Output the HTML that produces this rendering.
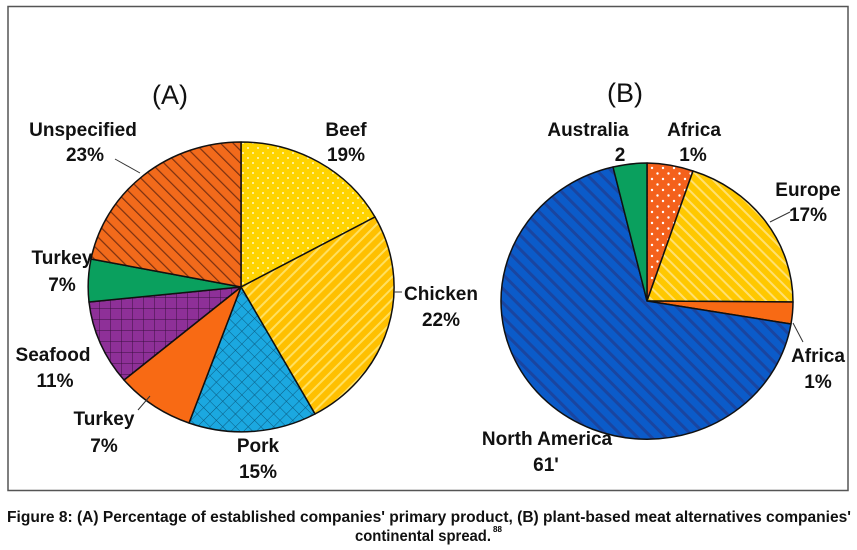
<!DOCTYPE html>
<html><head><meta charset="utf-8"><style>
body{margin:0;background:#fff}
svg{display:block}
.l{font-family:"Liberation Sans",sans-serif;font-weight:bold;font-size:19px;fill:#111}
.t{font-family:"Liberation Sans",sans-serif;font-size:27px;fill:#111}
.c{font-family:"Liberation Sans",sans-serif;font-weight:bold;font-size:16px;fill:#111}
</style></head><body>
<svg width="857" height="550" viewBox="0 0 857 550" xmlns="http://www.w3.org/2000/svg">
<defs>
<pattern id="dots" width="10" height="10" patternUnits="userSpaceOnUse"><rect width="10" height="10" fill="#FFD300"/><circle cx="3" cy="3" r="1" fill="#fff8c0"/><circle cx="8" cy="8" r="1" fill="#fff8c0"/></pattern>
<pattern id="chk" width="8" height="8" patternUnits="userSpaceOnUse" patternTransform="rotate(45)"><rect width="8" height="8" fill="#FFC000"/><rect width="2" height="8" fill="#FFE060"/></pattern>
<pattern id="pork" width="9" height="9" patternUnits="userSpaceOnUse" patternTransform="rotate(45)"><rect width="9" height="9" fill="#1BA8E0"/><path d="M0 0H9M0 0V9" stroke="#0b5a80" stroke-width="1"/></pattern>
<pattern id="sea" width="11" height="11" patternUnits="userSpaceOnUse"><rect width="11" height="11" fill="#8E3098"/><path d="M0 0H11M0 0V11" stroke="#3a0f40" stroke-width="1"/></pattern>
<pattern id="uns" width="9" height="9" patternUnits="userSpaceOnUse" patternTransform="rotate(-45)"><rect width="9" height="9" fill="#F26A1B"/><rect width="1.2" height="9" fill="#7a3010"/></pattern>
<pattern id="blu" width="10" height="10" patternUnits="userSpaceOnUse" patternTransform="rotate(-45)"><rect width="10" height="10" fill="#0B5BC9"/><rect width="3" height="10" fill="#1a45a0"/></pattern>
<pattern id="eur" width="8" height="8" patternUnits="userSpaceOnUse" patternTransform="rotate(-45)"><rect width="8" height="8" fill="#FFC800"/><rect width="2" height="8" fill="#FFE070"/></pattern>
<pattern id="afd" width="11" height="11" patternUnits="userSpaceOnUse"><rect width="11" height="11" fill="#F4611C"/><circle cx="3" cy="3" r="1.2" fill="#fff"/><circle cx="8.5" cy="8.5" r="1.2" fill="#fff"/></pattern>
</defs>
<rect x="8" y="6.5" width="840" height="484" fill="#fff" stroke="#555" stroke-width="1.5"/>
<g stroke="#111" stroke-width="1.5" stroke-linejoin="round">
<path d="M241 287 L241 142 A153 145 0 0 1 375 217 Z" fill="url(#dots)"/>
<path d="M241 287 L375 217 A153 145 0 0 1 315 414 Z" fill="url(#chk)"/>
<path d="M241 287 L315 414 A153 145 0 0 1 189 423 Z" fill="url(#pork)"/>
<path d="M241 287 L189 423 A153 145 0 0 1 124 380 Z" fill="#F86A14"/>
<path d="M241 287 L124 380 A153 145 0 0 1 89 302 Z" fill="url(#sea)"/>
<path d="M241 287 L89 302 A153 145 0 0 1 91 259 Z" fill="#0AA05E"/>
<path d="M241 287 L91 259 A153 145 0 0 1 241 142 Z" fill="url(#uns)"/>

<path d="M647 301 L647 163 A146 138 0 0 1 693 171 Z" fill="url(#afd)"/>
<path d="M647 301 L693 171 A146 138 0 0 1 793 302 Z" fill="url(#eur)"/>
<path d="M647 301 L793 302 A146 138 0 0 1 791 324 Z" fill="#F86A14"/>
<path d="M647 301 L791 324 A146 138 0 1 1 613 167 Z" fill="url(#blu)"/>
<path d="M647 301 L613 167 A146 138 0 0 1 647 163 Z" fill="#0AA05E"/>
</g>
<g stroke="#333" stroke-width="1" fill="none">
<path d="M115 159 L140 173"/><path d="M394 292 L402 292"/><path d="M138 410 L150 396"/>
<path d="M770 222 L790 212"/><path d="M793 323 L803 342"/>
</g>
<text class="t" x="170" y="104" text-anchor="middle">(A)</text>
<text class="t" x="625" y="102" text-anchor="middle">(B)</text>
<g class="l" text-anchor="middle">
<text x="83" y="136">Unspecified</text><text x="85" y="161">23%</text>
<text x="346" y="136">Beef</text><text x="346" y="161">19%</text>
<text x="441" y="300">Chicken</text><text x="441" y="326">22%</text>
<text x="62" y="264">Turkey</text><text x="62" y="291">7%</text>
<text x="53" y="361">Seafood</text><text x="55" y="387">11%</text>
<text x="104" y="425">Turkey</text><text x="104" y="452">7%</text>
<text x="258" y="452">Pork</text><text x="258" y="478">15%</text>
<text x="588" y="136">Australia</text><text x="620" y="161">2</text>
<text x="694" y="136">Africa</text><text x="693" y="161">1%</text>
<text x="808" y="196">Europe</text><text x="808" y="221">17%</text>
<text x="818" y="362">Africa</text><text x="818" y="388">1%</text>
<text x="547" y="445">North America</text><text x="546" y="471">61'</text>
</g>
<text class="c" x="429" y="522" text-anchor="middle" textLength="844" lengthAdjust="spacingAndGlyphs">Figure 8: (A) Percentage of established companies' primary product, (B) plant-based meat alternatives companies'</text>
<text class="c" x="423" y="541" text-anchor="middle" textLength="136" lengthAdjust="spacingAndGlyphs">continental spread.</text>
<text x="493" y="532" style="font-family:'Liberation Sans',sans-serif;font-weight:bold;font-size:8px">88</text>
</svg>
</body></html>
